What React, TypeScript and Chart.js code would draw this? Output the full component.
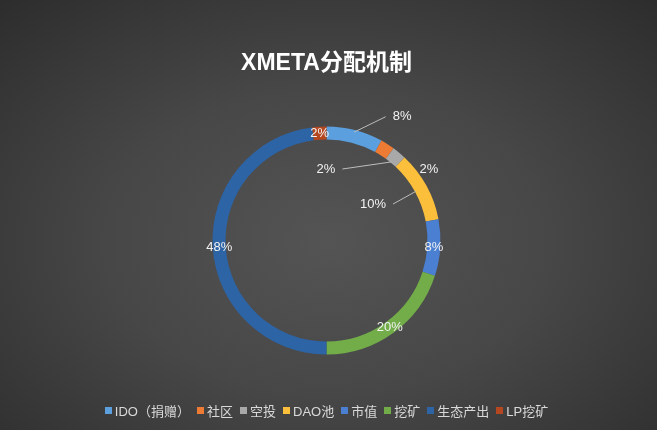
import React, { useEffect, useRef } from "react";
import { Chart, registerables } from "chart.js";

Chart.register(...registerables);

const chartTitle = "XMETA分配机制";
const categories = ["IDO（捐赠）", "社区", "空投", "DAO池", "市值", "挖矿", "生态产出", "LP挖矿"];
const shares = [8, 2, 2, 10, 8, 20, 48, 2];
const sliceColors = ["#5b9fdf", "#ee7b33", "#a9a9a9", "#fbbf3c", "#4a7fd2", "#72ad4a", "#2d64a6", "#b4471f"];

const FONT = '"Liberation Sans", "Noto Sans CJK SC", Arial, sans-serif';

// label placement for slices whose label is moved off the ring (deg clockwise from top, px from centre)
const movedLabels: Record<number, { angle: number; r: number; line: "outer" | "inner" | null }> = {
  0: { angle: 31.4, r: 145, line: "outer" },
  1: { angle: 55.1, r: 125, line: null },
  2: { angle: -0.4, r: 71.5, line: "inner" },
  3: { angle: 51.9, r: 59.1, line: "inner" },
};

const labelPlugin = {
  id: "sliceLabels",
  afterDatasetsDraw(chart: any) {
    const ctx = chart.ctx as CanvasRenderingContext2D;
    const meta = chart.getDatasetMeta(0);
    const data = chart.data.datasets[0].data as number[];
    const total = data.reduce((a, b) => a + b, 0);
    ctx.save();
    ctx.font = `13px ${FONT}`;
    ctx.textAlign = "center";
    ctx.textBaseline = "middle";
    meta.data.forEach((arc: any, i: number) => {
      const p = arc.getProps(["x", "y", "startAngle", "endAngle", "innerRadius", "outerRadius"], true);
      const mid = (p.startAngle + p.endAngle) / 2;
      const text = Math.round((data[i] / total) * 100) + "%";
      const w = ctx.measureText(text).width;
      const mv = movedLabels[i];
      let lx: number, ly: number;
      if (mv) {
        const a = (mv.angle * Math.PI) / 180 - Math.PI / 2;
        lx = p.x + mv.r * Math.cos(a);
        ly = p.y + mv.r * Math.sin(a);
        if (mv.line) {
          const sr = mv.line === "outer" ? p.outerRadius - 2 : p.innerRadius + 1;
          const sx = p.x + sr * Math.cos(mid);
          const sy = p.y + sr * Math.sin(mid);
          const ex = lx > sx ? lx - w / 2 - 7 : lx + w / 2 + 7;
          ctx.strokeStyle = "#bdbdbd";
          ctx.lineWidth = 1;
          ctx.beginPath();
          ctx.moveTo(sx, sy);
          ctx.lineTo(ex, ly);
          ctx.stroke();
        }
      } else {
        const r = (p.innerRadius + p.outerRadius) / 2;
        lx = p.x + r * Math.cos(mid);
        ly = p.y + r * Math.sin(mid);
      }
      ctx.fillStyle = "#f2f2f2";
      ctx.fillText(text, lx, ly);
    });
    ctx.restore();
  },
};

export default function App() {
  const ref = useRef<HTMLCanvasElement | null>(null);
  useEffect(() => {
    if (!ref.current) return;
    const chart = new Chart(ref.current, {
      type: "doughnut",
      data: {
        labels: categories,
        datasets: [
          {
            data: shares,
            backgroundColor: sliceColors,
            borderWidth: 0,
            radius: 114,
            cutout: "88.6%",
          } as any,
        ],
      },
      options: {
        responsive: false,
        animation: false,
        layout: { padding: { left: 0, right: 4, top: 0, bottom: 36 } },
        plugins: {
          title: {
            display: true,
            text: chartTitle,
            color: "#ffffff",
            font: { size: 23, weight: "bold", family: FONT },
            padding: { top: 49.5, bottom: 9.9 },
          },
          legend: { display: false },
          tooltip: { enabled: false },
        },
      },
      plugins: [labelPlugin],
    });
    return () => chart.destroy();
  }, []);
  return (
    <div
      style={{
        position: "fixed",
        left: 0,
        top: 0,
        width: 657,
        height: 430,
        background: "radial-gradient(ellipse 75% 80% at 50% 56%, #545454 0%, #474747 45%, #2b2b2b 100%)",
      }}
    >
      <canvas ref={ref} width={657} height={430} style={{ display: "block" }} />
      <div
        style={{
          position: "absolute",
          left: 0,
          width: 653,
          top: 401,
          height: 18,
          display: "flex",
          justifyContent: "center",
          alignItems: "center",
          fontFamily: FONT,
          fontSize: 13,
          color: "#d9d9d9",
          whiteSpace: "nowrap",
        }}
      >
        {categories.map((c, i) => (
          <span key={c} style={{ display: "flex", alignItems: "center", marginLeft: i === 0 ? 0 : 7 }}>
            <span style={{ width: 7, height: 7, background: sliceColors[i], marginRight: 3, display: "inline-block" }} />
            <span>{c}</span>
          </span>
        ))}
      </div>
    </div>
  );
}
